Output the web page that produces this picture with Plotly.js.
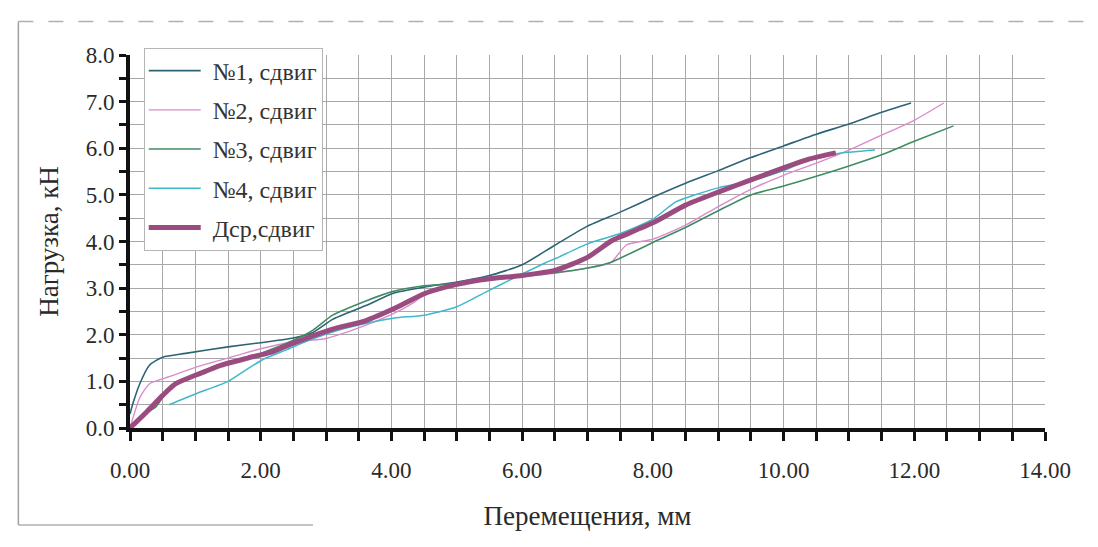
<!DOCTYPE html>
<html>
<head>
<meta charset="utf-8">
<script src="https://cdn.plot.ly/plotly-3.0.1.min.js"></script>
<style>
  html, body { margin: 0; padding: 0; background: #ffffff; }
  #chart { width: 1098px; height: 547px; }
</style>
</head>
<body>
<div id="chart"></div>
<script>
// ---- Data ----
const seriesNames = ["№1, сдвиг", "№2, сдвиг", "№3, сдвиг", "№4, сдвиг", "Дср,сдвиг"];

const x1 = [0, 0.05, 0.15, 0.3, 0.5, 0.85, 1.5, 2.0, 2.5, 2.8, 3.1, 3.6, 4.05, 4.5, 5.0, 5.5, 6.0, 6.5, 7.0, 7.5, 8.0, 8.5, 9.0, 9.5, 10.0, 10.5, 11.0, 11.5, 11.95];
const y1 = [0.3, 0.55, 0.95, 1.35, 1.52, 1.6, 1.74, 1.83, 1.93, 2.05, 2.33, 2.62, 2.9, 3.02, 3.13, 3.27, 3.5, 3.92, 4.33, 4.63, 4.95, 5.25, 5.52, 5.8, 6.05, 6.3, 6.52, 6.77, 6.97];

const x2 = [0, 0.15, 0.3, 0.6, 1.0, 1.5, 2.0, 2.5, 3.0, 3.6, 4.1, 4.35, 4.55, 5.0, 5.5, 6.0, 6.5, 7.0, 7.35, 7.6, 8.0, 8.5, 9.0, 9.5, 10.0, 10.5, 11.0, 11.5, 12.0, 12.45];
const y2 = [0, 0.65, 0.95, 1.1, 1.3, 1.5, 1.7, 1.85, 1.92, 2.2, 2.5, 2.7, 2.9, 3.07, 3.17, 3.25, 3.32, 3.43, 3.54, 3.93, 4.05, 4.35, 4.75, 5.12, 5.42, 5.68, 5.96, 6.28, 6.6, 6.97];

const x3 = [0, 0.2, 0.4, 0.6, 0.87, 1.2, 1.6, 2.0, 2.5, 2.8, 3.1, 3.6, 4.0, 4.45, 5.0, 5.5, 6.0, 6.5, 7.0, 7.35, 8.0, 8.5, 9.0, 9.5, 10.0, 10.5, 11.0, 11.5, 12.0, 12.6];
const y3 = [0, 0.28, 0.46, 0.85, 1.05, 1.25, 1.42, 1.6, 1.88, 2.1, 2.42, 2.72, 2.92, 3.04, 3.1, 3.2, 3.28, 3.33, 3.43, 3.55, 3.98, 4.3, 4.66, 5.0, 5.19, 5.4, 5.62, 5.86, 6.15, 6.48];

const x4 = [0.6, 1.0, 1.5, 1.8, 2.05, 2.4, 2.7, 3.1, 3.6, 4.05, 4.5, 5.0, 5.45, 5.85, 6.35, 6.52, 7.0, 7.5, 8.0, 8.35, 8.6, 9.0, 9.5, 10.0, 10.3, 10.8, 11.4];
const y4 = [0.5, 0.73, 1.0, 1.27, 1.48, 1.68, 1.86, 2.06, 2.24, 2.36, 2.42, 2.6, 2.92, 3.2, 3.54, 3.64, 3.95, 4.17, 4.48, 4.85, 4.98, 5.15, 5.3, 5.52, 5.7, 5.88, 5.96];

const xAvg = [0, 0.25, 0.5, 0.7, 1.0, 1.4, 1.8, 2.15, 2.5, 3.1, 3.6, 4.1, 4.5, 5.0, 5.5, 6.0, 6.5, 7.0, 7.35, 7.5, 8.0, 8.5, 9.0, 9.5, 10.0, 10.4, 10.8];
const yAvg = [0, 0.34, 0.7, 0.95, 1.13, 1.35, 1.5, 1.62, 1.82, 2.12, 2.3, 2.6, 2.88, 3.08, 3.2, 3.27, 3.38, 3.66, 4.0, 4.1, 4.4, 4.78, 5.06, 5.32, 5.58, 5.77, 5.9];

const xTickFormat = ".2f";
const yTickFormat = ".1f";

// ---- Styles ----
const colors = ["#2b6474", "#d98ccb", "#3f8c62", "#3fb8cc", "#9a4c80"];
const widths = [1.6, 1.4, 1.6, 1.5, 5];
const xs = [x1, x2, x3, x4, xAvg];
const ys = [y1, y2, y3, y4, yAvg];

const serif = "Liberation Serif, Times New Roman, serif";

const traces = xs.map((xv, i) => ({
  type: "scatter",
  mode: "lines",
  x: xv,
  y: ys[i],
  name: seriesNames[i],
  legendgroup: "g" + i,
  line: { color: colors[i], width: widths[i], shape: "spline", smoothing: 0.6 }
}));

const layout = {
  width: 1098,
  height: 547,
  margin: { l: 130, r: 53, t: 55, b: 119 },
  paper_bgcolor: "#ffffff",
  plot_bgcolor: "#ffffff",
  font: { family: serif, size: 23, color: "#222222" },
  showlegend: true,
  legend: {
    x: 0.015, y: 1.02, xanchor: "left", yanchor: "top",
    bgcolor: "#ffffff",
    bordercolor: "#b5b5b5",
    borderwidth: 1,
    font: { family: serif, size: 24, color: "#333333" },
    tracegroupgap: 5,
    itemwidth: 58
  },
  xaxis: {
    range: [0, 14],
    dtick: 2,
    tick0: 0,
    tickformat: xTickFormat,
    ticks: "outside",
    ticklen: 9,
    tickwidth: 3,
    tickcolor: "#111111",
    ticklabelstandoff: 9,
    showline: true,
    linecolor: "#111111",
    linewidth: 4,
    showgrid: true,
    gridcolor: "#a8a8a8",
    gridwidth: 1,
    zeroline: false,
    minor: { dtick: 0.5, ticks: "outside", ticklen: 9, tickwidth: 3, tickcolor: "#111111", showgrid: true, gridcolor: "#a8a8a8", gridwidth: 1 },
    tickfont: { family: serif, size: 23, color: "#2a2a2a" },
    title: { text: "Перемещения, мм", font: { family: serif, size: 27, color: "#2a2a2a" }, standoff: 26 },
    automargin: false
  },
  yaxis: {
    range: [0, 8],
    dtick: 1,
    tick0: 0,
    tickformat: yTickFormat,
    ticks: "outside",
    ticklen: 7,
    tickwidth: 3,
    tickcolor: "#111111",
    showline: true,
    linecolor: "#111111",
    linewidth: 4,
    showgrid: true,
    gridcolor: "#a8a8a8",
    gridwidth: 1,
    zeroline: false,
    minor: { dtick: 0.5, ticks: "outside", ticklen: 7, tickwidth: 3, tickcolor: "#111111", showgrid: true, gridcolor: "#a8a8a8", gridwidth: 1 },
    tickfont: { family: serif, size: 23, color: "#2a2a2a" },
    title: { text: "Нагрузка, кН", font: { family: serif, size: 27, color: "#2a2a2a" }, standoff: 20 },
    automargin: false
  },
  shapes: [
    { type: "line", xref: "paper", yref: "paper", x0: -0.122, x1: -0.122, y0: -0.26, y1: 1.09, line: { color: "#a0a0a0", width: 1.5 } },
    { type: "line", xref: "paper", yref: "paper", x0: -0.122, x1: 1.05, y0: 1.09, y1: 1.09, line: { color: "#b0b0b0", width: 1.5, dash: "longdash" } },
    { type: "line", xref: "paper", yref: "paper", x0: -0.122, x1: 0.2, y0: -0.26, y1: -0.26, line: { color: "#b0b0b0", width: 1.5 } }
  ]
};

Plotly.newPlot("chart", traces, layout, { displayModeBar: false, staticPlot: true }).then(() => {
  // lengthen the legend line samples to match the reference
  document.querySelectorAll("#chart .legend .legendlines path").forEach(p => {
    p.setAttribute("d", "M4,0h52");
  });
});
</script>
</body>
</html>
